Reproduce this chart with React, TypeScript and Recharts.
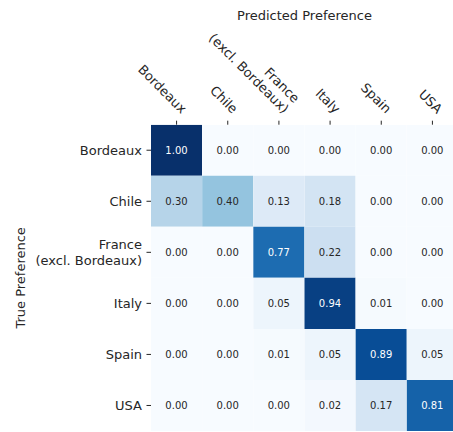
import React from 'react';
import { BarChart, Bar, XAxis, YAxis, Cell, LabelList } from 'recharts';

const predictedLabels = ['Bordeaux', 'Chile', 'France\n(excl. Bordeaux)', 'Italy', 'Spain', 'USA'];
const trueLabels = ['Bordeaux', 'Chile', 'France\n(excl. Bordeaux)', 'Italy', 'Spain', 'USA'];

const rowBordeaux = [1.0, 0.0, 0.0, 0.0, 0.0, 0.0];
const rowChile = [0.3, 0.4, 0.13, 0.18, 0.0, 0.0];
const rowFrance = [0.0, 0.0, 0.77, 0.22, 0.0, 0.0];
const rowItaly = [0.0, 0.0, 0.05, 0.94, 0.01, 0.0];
const rowSpain = [0.0, 0.0, 0.01, 0.05, 0.89, 0.05];
const rowUSA = [0.0, 0.0, 0.0, 0.02, 0.17, 0.81];

const matrix = [rowBordeaux, rowChile, rowFrance, rowItaly, rowSpain, rowUSA];
const yTicks = [0.5, 1.5, 2.5, 3.5, 4.5, 5.5];

const BLUES = ['#f7fbff', '#deebf7', '#c6dbef', '#9ecae1', '#6baed6', '#4292c6', '#2171b5', '#08519c', '#08306b'];

function hexToRgb(h: string) {
  return [parseInt(h.slice(1, 3), 16), parseInt(h.slice(3, 5), 16), parseInt(h.slice(5, 7), 16)];
}
function blues(v: number) {
  const t = Math.max(0, Math.min(1, v)) * (BLUES.length - 1);
  const i = Math.min(Math.floor(t), BLUES.length - 2);
  const f = t - i;
  const a = hexToRgb(BLUES[i]);
  const b = hexToRgb(BLUES[i + 1]);
  const c = a.map((x, k) => Math.round(x + (b[k] - x) * f));
  return `rgb(${c[0]},${c[1]},${c[2]})`;
}

const data = predictedLabels.map((name, j) => {
  const row: Record<string, any> = { name };
  trueLabels.forEach((_, i) => {
    row[`r${i}`] = 1;
  });
  return row;
});

const FONT = 'DejaVu Sans';
const TXT = '#262626';

const XTick = (props: any) => {
  const { x, y, payload } = props;
  const lines = String(payload.value).split('\n');
  const ex = x + 4.5;
  const ey = y - 6.5;
  return (
    <g transform={`translate(${ex},${ey}) rotate(45)`}>
      {lines.map((l, k) => (
        <text
          key={k}
          x={0}
          y={-(lines.length - 1 - k) * 15}
          textAnchor="end"
          fontFamily={FONT}
          fontSize={13}
          fill={TXT}
        >
          {l}
        </text>
      ))}
    </g>
  );
};

const YTick = (props: any) => {
  const { x, y, payload } = props;
  const idx = Math.floor(payload.value);
  const lines = trueLabels[idx].split('\n');
  const lh = 16;
  const start = y - ((lines.length - 1) * lh) / 2;
  return (
    <g>
      {lines.map((l, k) => (
        <text
          key={k}
          x={x}
          y={start + k * lh}
          textAnchor="end"
          dominantBaseline="central"
          fontFamily={FONT}
          fontSize={13}
          fill={TXT}
        >
          {l}
        </text>
      ))}
    </g>
  );
};

const makeCellLabel = (i: number) => (props: any) => {
  const { x, y, width, height, index } = props;
  const v = matrix[i][index];
  return (
    <text
      x={x + width / 2}
      y={y + height / 2}
      textAnchor="middle"
      dominantBaseline="central"
      fontFamily={FONT}
      fontSize={10}
      fill={v > 0.5 ? '#ffffff' : TXT}
    >
      {v.toFixed(2)}
    </text>
  );
};

const XTitle = (props: any) => {
  const vb = props.viewBox || {};
  return (
    <text
      x={vb.x + vb.width / 2}
      y={15}
      textAnchor="middle"
      dominantBaseline="central"
      fontFamily={FONT}
      fontSize={13}
      fill={TXT}
    >
      Predicted Preference
    </text>
  );
};

const YTitle = (props: any) => {
  const vb = props.viewBox || {};
  const cx = vb.x + 21;
  const cy = vb.y + vb.height / 2;
  return (
    <text
      x={cx}
      y={cy}
      transform={`rotate(-90, ${cx}, ${cy})`}
      textAnchor="middle"
      dominantBaseline="central"
      fontFamily={FONT}
      fontSize={13}
      fill={TXT}
    >
      True Preference
    </text>
  );
};

export default function App() {
  return (
    <div style={{ position: 'absolute', left: 0, top: 0, width: 453, height: 432, overflow: 'hidden', background: '#fff' }}>
      <BarChart
        width={460}
        height={432}
        data={data}
        margin={{ top: 0, right: 2, bottom: 1, left: 0 }}
        barCategoryGap={0}
        barGap={0}
      >
        <XAxis
          dataKey="name"
          type="category"
          orientation="top"
          height={124.7}
          axisLine={false}
          tickSize={4}
          tickMargin={0}
          tickLine={{ stroke: TXT, strokeWidth: 1 }}
          tick={<XTick />}
          interval={0}
          label={(p: any) => <XTitle {...p} />}
        />
        <YAxis
          type="number"
          domain={[0, 6]}
          reversed
          ticks={yTicks}
          interval={0}
          width={151}
          axisLine={false}
          tickSize={4.5}
          tickMargin={4.5}
          tickLine={{ stroke: TXT, strokeWidth: 1 }}
          tick={<YTick />}
          allowDataOverflow
          label={(p: any) => <YTitle {...p} />}
        />
        {trueLabels.map((_, i) => (
          <Bar key={i} dataKey={`r${i}`} stackId="a" isAnimationActive={false}>
            {predictedLabels.map((__, j) => (
              <Cell key={j} fill={blues(matrix[i][j])} />
            ))}
            <LabelList content={makeCellLabel(i)} />
          </Bar>
        ))}
      </BarChart>
    </div>
  );
}
